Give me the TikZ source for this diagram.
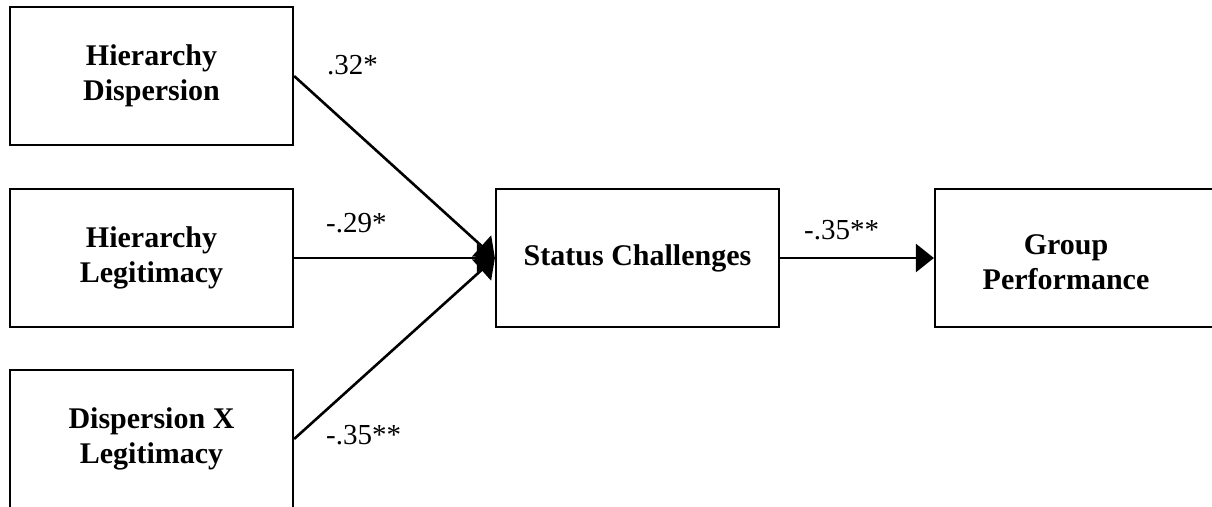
\documentclass[tikz,border=0pt]{standalone}
\usepackage{fontspec}
\setmainfont{Liberation Serif}
\usetikzlibrary{arrows.meta}
\begin{document}
\begin{tikzpicture}[x=1pt,y=-1pt,
  box/.style={draw=black, line width=2.2pt, minimum width=283pt, minimum height=138pt,
    inner sep=0pt, align=center, font=\fontsize{30}{35}\selectfont\bfseries},
  conn/.style={line width=2.6pt, -{Triangle[length=18pt,width=28pt]}},
  coef/.style={font=\fontsize{29}{34}\selectfont, inner sep=0pt}]
\useasboundingbox (0,0) rectangle (1212,506);
\clip (0,0) rectangle (1212,506);
\node[box] (hd) at (151.5,76) {Hierarchy\\Dispersion};
\node[box] (hl) at (151.5,258) {Hierarchy\\Legitimacy};
\node[box] (dl) at (151.5,439) {Dispersion X\\Legitimacy};
\node[box] (sc) at (637.5,258) {Status Challenges};
\node[box] (gp) at (1076.5,258) {};
\node[font=\fontsize{30}{35}\selectfont\bfseries, align=center, inner sep=0pt] (gpt) at (1066,262) {Group\\Performance};
\draw[conn] (hd.east) -- (sc.west);
\draw[conn] (hl.east) -- (sc.west);
\draw[conn] (dl.east) -- (sc.west);
\draw[conn] (sc.east) -- (gp.west);
\node[coef, anchor=west] (c1) at (327,65) {.32*};
\node[coef, anchor=west] (c2) at (326,223) {-.29*};
\node[coef, anchor=west] (c3) at (326,435) {-.35**};
\node[coef, anchor=west] (c4) at (804,230) {-.35**};
\end{tikzpicture}
\end{document}
